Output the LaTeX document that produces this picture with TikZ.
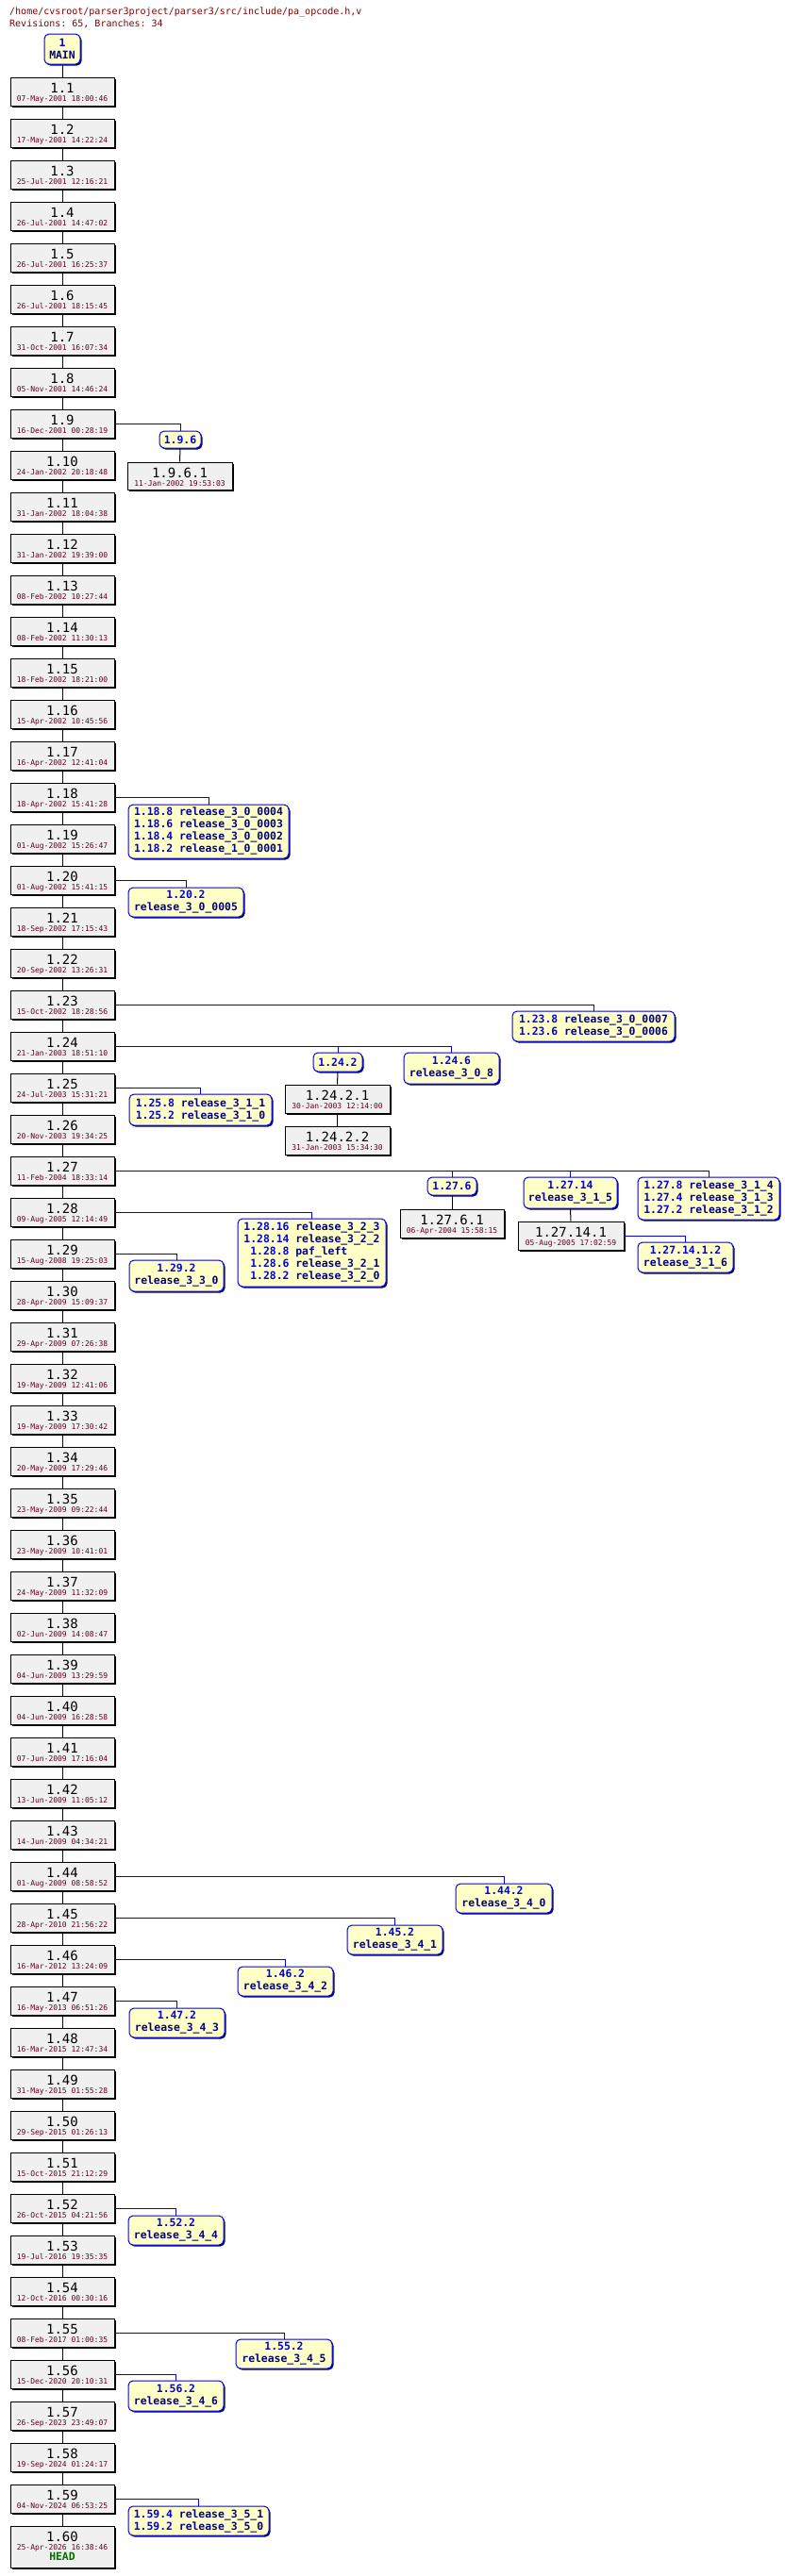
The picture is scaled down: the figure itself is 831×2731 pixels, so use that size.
\documentclass[tikz,border=0pt]{standalone}
\usepackage{fontspec}
\setmonofont{DejaVu Sans Mono}
\usetikzlibrary{shadows}
\definecolor{revfill}{HTML}{F0F0F0}
\definecolor{tagfill}{HTML}{FFFFC8}
\definecolor{bnum}{HTML}{0000E0}
\definecolor{navy}{HTML}{000080}
\definecolor{datec}{HTML}{600020}
\definecolor{titlec}{HTML}{800000}
\definecolor{headc}{HTML}{007000}
\newcommand\bn[1]{\textcolor{bnum}{#1}}
\newcommand\tg[1]{\textcolor{navy}{#1}}
\newcommand\RevBox[7]{%
 \node[revbox, minimum width={#4-#2}, minimum height={#5-#3}] (#1) at ({(#2+#4)/2},{(#3+#5)/2}) {};
 \node[revnum] at ({(#2+#4)/2},{#3+16}) {#6};
 \node[revdate] at ({(#2+#4)/2},{#3+25}) {#7};}
\newcommand\TagBox[6]{%
 \node[tagbox, minimum width={#4-#2}, minimum height={#5-#3}] (#1) at ({(#2+#4)/2},{(#3+#5)/2}) {#6};}
\begin{document}
\begin{tikzpicture}[x=1pt,y=-1pt,
 revbox/.style={draw=black,line width=1pt,fill=revfill,inner sep=0,
   drop shadow={shadow xshift=1.5pt,shadow yshift=-1.5pt,fill=black,opacity=1}},
 revnum/.style={anchor=base,inner sep=0,font=\ttfamily\fontsize{14}{14}\selectfont},
 revdate/.style={anchor=base,inner sep=0,text=datec,font=\ttfamily\fontsize{8}{8}\selectfont},
 tagbox/.style={draw=bnum,line width=1pt,fill=tagfill,rounded corners=5pt,inner sep=0,align=center,
   font=\ttfamily\bfseries\fontsize{11.4}{13}\selectfont,
   drop shadow={shadow xshift=1.5pt,shadow yshift=-1.5pt,fill=navy,opacity=1}},
 trunk/.style={draw=black,line width=1pt},
 brl/.style={draw=bnum,line width=1pt}]
\useasboundingbox (0,0) rectangle (831,2731);
\node[anchor=base west,inner sep=0,text=titlec,font=\ttfamily\fontsize{10}{10}\selectfont] (t1) at (10,15.5) {/home/cvsroot/parser3project/parser3/src/include/pa\_opcode.h,v};
\node[anchor=base west,inner sep=0,text=titlec,font=\ttfamily\fontsize{10}{10}\selectfont] (t2) at (10,28) {Revisions: 65, Branches: 34};
\TagBox{main}{47}{36}{85}{68}{\bn{1}\\\tg{MAIN}}
\foreach \i/\d in {1/07-May-2001 18:00:46,2/17-May-2001 14:22:24,3/25-Jul-2001 12:16:21,4/26-Jul-2001 14:47:02,
5/26-Jul-2001 16:25:37,6/26-Jul-2001 18:15:45,7/31-Oct-2001 16:07:34,8/05-Nov-2001 14:46:24,9/16-Dec-2001 00:28:19,
10/24-Jan-2002 20:18:48,11/31-Jan-2002 18:04:38,12/31-Jan-2002 19:39:00,13/08-Feb-2002 10:27:44,14/08-Feb-2002 11:30:13,
15/18-Feb-2002 18:21:00,16/15-Apr-2002 10:45:56,17/16-Apr-2002 12:41:04,18/18-Apr-2002 15:41:28,19/01-Aug-2002 15:26:47,
20/01-Aug-2002 15:41:15,21/18-Sep-2002 17:15:43,22/20-Sep-2002 13:26:31,23/15-Oct-2002 18:28:56,24/21-Jan-2003 18:51:10,
25/24-Jul-2003 15:31:21,26/20-Nov-2003 19:34:25,27/11-Feb-2004 18:33:14,28/09-Aug-2005 12:14:49,29/15-Aug-2008 19:25:03,
30/28-Apr-2009 15:09:37,31/29-Apr-2009 07:26:38,32/19-May-2009 12:41:06,33/19-May-2009 17:30:42,34/20-May-2009 17:29:46,
35/23-May-2009 09:22:44,36/23-May-2009 10:41:01,37/24-May-2009 11:32:09,38/02-Jun-2009 14:08:47,39/04-Jun-2009 13:29:59,
40/04-Jun-2009 16:28:58,41/07-Jun-2009 17:16:04,42/13-Jun-2009 11:05:12,43/14-Jun-2009 04:34:21,44/01-Aug-2009 08:58:52,
45/28-Apr-2010 21:56:22,46/16-Mar-2012 13:24:09,47/16-May-2013 06:51:26,48/16-Mar-2015 12:47:34,49/31-May-2015 01:55:28,
50/29-Sep-2015 01:26:13,51/15-Oct-2015 21:12:29,52/26-Oct-2015 04:21:56,53/19-Jul-2016 19:35:35,54/12-Oct-2016 00:30:16,
55/08-Feb-2017 01:00:35,56/15-Dec-2020 20:10:31,57/26-Sep-2023 23:49:07,58/19-Sep-2024 01:24:17,59/04-Nov-2024 06:53:25}{
 \pgfmathsetmacro\tp{82+44*(\i-1)}
 \RevBox{r\i}{11}{\tp}{121}{\tp+30}{1.\i}{\d}
}
\node[revbox,minimum width=110,minimum height=44] (r60) at (66,2700) {};
\node[revnum] at (66,2694) {1.60};
\node[revdate] at (66,2703) {25-Apr-2026 16:38:46};
\node[anchor=base,inner sep=0,text=headc,font=\ttfamily\bfseries\fontsize{11.4}{13}\selectfont] at (66,2714) {HEAD};
\draw[trunk] (main.south) -- (r1.north);
\foreach \i [evaluate=\i as \j using int(\i+1)] in {1,...,59} { \draw[trunk] (r\i.south) -- (r\j.north); }
% branches
\TagBox{b9}{169}{457}{213}{475}{\bn{1.9.6}}
\RevBox{r961}{135}{490}{246}{519}{1.9.6.1}{11-Jan-2002 19:53:03}
\draw[brl] (r9.east) -| (b9.north); \draw[trunk] (b9.south) -- (r961.north);
\TagBox{b18}{136}{853}{306}{910}{\begin{tabular}{@{}l@{}}\bn{1.18.8} \tg{release\_3\_0\_0004}\\\bn{1.18.6} \tg{release\_3\_0\_0003}\\\bn{1.18.4} \tg{release\_3\_0\_0002}\\\bn{1.18.2} \tg{release\_1\_0\_0001}\end{tabular}}
\draw[brl] (r18.east) -| (b18.north);
\TagBox{b20}{136}{941}{258}{972}{\bn{1.20.2}\\\tg{release\_3\_0\_0005}}
\draw[brl] (r20.east) -| (b20.north);
\TagBox{b23}{543}{1072}{715}{1104}{\bn{1.23.8} \tg{release\_3\_0\_0007}\\\bn{1.23.6} \tg{release\_3\_0\_0006}}
\draw[brl] (r23.east) -| (b23.north);
\TagBox{b24a}{332}{1116}{384}{1136}{\bn{1.24.2}}
\TagBox{b24b}{428}{1116}{529}{1149}{\bn{1.24.6}\\\tg{release\_3\_0\_8}}
\draw[brl] (r24.east) -| (b24b.north); \draw[brl] (r24.east) -| (b24a.north);
\RevBox{r2421}{302}{1150}{413}{1180}{1.24.2.1}{30-Jan-2003 12:14:00}
\RevBox{r2422}{302}{1194}{413}{1224}{1.24.2.2}{31-Jan-2003 15:34:30}
\draw[trunk] (b24a.south) -- (r2421.north); \draw[trunk] (r2421.south) -- (r2422.north);
\TagBox{b25}{137}{1160}{288}{1193}{\bn{1.25.8} \tg{release\_3\_1\_1}\\\bn{1.25.2} \tg{release\_3\_1\_0}}
\draw[brl] (r25.east) -| (b25.north);
\TagBox{b27a}{453}{1248}{505}{1267}{\bn{1.27.6}}
\TagBox{b27b}{555}{1248}{654}{1281}{\bn{1.27.14}\\\tg{release\_3\_1\_5}}
\TagBox{b27c}{676}{1248}{826}{1293}{\bn{1.27.8} \tg{release\_3\_1\_4}\\\bn{1.27.4} \tg{release\_3\_1\_3}\\\bn{1.27.2} \tg{release\_3\_1\_2}}
\draw[brl] (r27.east) -| (b27c.north); \draw[brl] (r27.east) -| (b27b.north); \draw[brl] (r27.east) -| (b27a.north);
\RevBox{r2761}{424}{1282}{534}{1312}{1.27.6.1}{06-Apr-2004 15:58:15}
\RevBox{r27141}{549}{1295}{661}{1325}{1.27.14.1}{05-Aug-2005 17:02:59}
\draw[trunk] (b27a.south) -- (r2761.north); \draw[trunk] (b27b.south) -- (r27141.north);
\TagBox{b2714}{676}{1317}{777}{1349}{\bn{1.27.14.1.2}\\\tg{release\_3\_1\_6}}
\draw[brl] (r27141.east) -| (b2714.north);
\TagBox{b28}{252}{1292}{409}{1364}{\begin{tabular}{@{}l@{}}\bn{1.28.16} \tg{release\_3\_2\_3}\\\bn{1.28.14} \tg{release\_3\_2\_2}\\\bn{\phantom{1}1.28.8} \tg{paf\_left}\\\bn{\phantom{1}1.28.6} \tg{release\_3\_2\_1}\\\bn{\phantom{1}1.28.2} \tg{release\_3\_2\_0}\end{tabular}}
\draw[brl] (r28.east) -| (b28.north);
\TagBox{b29}{137}{1336}{237}{1369}{\bn{1.29.2}\\\tg{release\_3\_3\_0}}
\draw[brl] (r29.east) -| (b29.north);
\TagBox{b44}{483}{1997}{585}{2028}{\bn{1.44.2}\\\tg{release\_3\_4\_0}}
\draw[brl] (r44.east) -| (b44.north);
\TagBox{b45}{368}{2041}{469}{2072}{\bn{1.45.2}\\\tg{release\_3\_4\_1}}
\draw[brl] (r45.east) -| (b45.north);
\TagBox{b46}{252}{2085}{353}{2116}{\bn{1.46.2}\\\tg{release\_3\_4\_2}}
\draw[brl] (r46.east) -| (b46.north);
\TagBox{b47}{137}{2129}{238}{2160}{\bn{1.47.2}\\\tg{release\_3\_4\_3}}
\draw[brl] (r47.east) -| (b47.north);
\TagBox{b52}{136}{2349}{237}{2380}{\bn{1.52.2}\\\tg{release\_3\_4\_4}}
\draw[brl] (r52.east) -| (b52.north);
\TagBox{b55}{250}{2480}{352}{2511}{\bn{1.55.2}\\\tg{release\_3\_4\_5}}
\draw[brl] (r55.east) -| (b55.north);
\TagBox{b56}{136}{2524}{237}{2556}{\bn{1.56.2}\\\tg{release\_3\_4\_6}}
\draw[brl] (r56.east) -| (b56.north);
\TagBox{b59}{136}{2657}{285}{2688}{\bn{1.59.4} \tg{release\_3\_5\_1}\\\bn{1.59.2} \tg{release\_3\_5\_0}}
\draw[brl] (r59.east) -| (b59.north);
\end{tikzpicture}
\end{document}
